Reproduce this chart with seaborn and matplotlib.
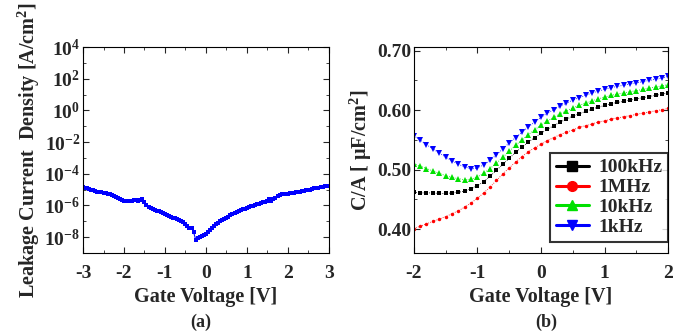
import numpy as np
import pandas as pd
import matplotlib
matplotlib.use("Agg")
import matplotlib.pyplot as plt
import seaborn as sns
from matplotlib.lines import Line2D
from matplotlib.ticker import FixedLocator, MultipleLocator, NullFormatter

# ---------------- data ----------------
# (a) leakage current density, log10(J)
leak_v = [round(-3 + 0.05 * i, 2) for i in range(121)]
leak_log = [
    -4.85, -4.88, -4.90, -4.97, -5.02, -5.05, -5.10, -5.12, -5.15, -5.17,
    -5.22, -5.20, -5.25, -5.30, -5.33, -5.38, -5.45, -5.52, -5.60, -5.66,
    -5.72, -5.72, -5.74, -5.70, -5.70, -5.68, -5.66, -5.70, -5.66, -5.62,
    -5.78, -5.95, -6.10, -6.18, -6.25, -6.30, -6.33, -6.38, -6.42, -6.48,
    -6.55, -6.62, -6.68, -6.75, -6.77, -6.78, -6.86, -6.90, -6.95, -7.05,
    -7.18, -7.30, -7.45, -7.42, -7.68, -8.15, -8.05, -7.98, -7.92, -7.88,
    -7.82, -7.70, -7.55, -7.42, -7.32, -7.20, -7.08, -6.98, -6.90, -6.85,
    -6.78, -6.70, -6.62, -6.55, -6.48, -6.42, -6.35, -6.30, -6.25, -6.20,
    -6.15, -6.10, -6.05, -6.02, -5.98, -5.93, -5.90, -5.85, -5.80, -5.76,
    -5.72, -5.60, -5.70, -5.62, -5.50, -5.40, -5.33, -5.30, -5.28, -5.27,
    -5.25, -5.22, -5.20, -5.20, -5.18, -5.15, -5.12, -5.10, -5.08, -5.05,
    -5.03, -5.00, -4.95, -4.90, -4.88, -4.88, -4.85, -4.82, -4.80, -4.78,
    -4.75,
]

# (b) C-V curves
cv_v = [round(-2 + 0.1 * i, 1) for i in range(41)]
cap_1khz = [
    0.557, 0.550, 0.542, 0.535, 0.528, 0.521, 0.515, 0.509, 0.505, 0.501,
    0.503, 0.508, 0.516, 0.525, 0.535, 0.545, 0.554, 0.563, 0.572, 0.580,
    0.588, 0.595, 0.601, 0.607, 0.612, 0.617, 0.621, 0.625, 0.629, 0.632,
    0.635, 0.638, 0.640, 0.642, 0.644, 0.646, 0.648, 0.650, 0.652, 0.654,
    0.657,
]
cap_10khz = [
    0.510, 0.506, 0.502, 0.498, 0.494, 0.490, 0.487, 0.485, 0.483, 0.484,
    0.488, 0.494, 0.502, 0.511, 0.521, 0.531, 0.541, 0.550, 0.559, 0.567,
    0.575, 0.582, 0.588, 0.594, 0.599, 0.604, 0.608, 0.612, 0.616, 0.619,
    0.622, 0.625, 0.627, 0.629, 0.631, 0.633, 0.635, 0.637, 0.639, 0.641,
    0.643,
]
cap_100khz = [
    0.462, 0.461, 0.461, 0.461, 0.460, 0.460, 0.461, 0.462, 0.464, 0.468,
    0.473, 0.480, 0.489, 0.499, 0.509, 0.519, 0.529, 0.538, 0.546, 0.554,
    0.561, 0.568, 0.574, 0.580, 0.585, 0.590, 0.594, 0.598, 0.602, 0.605,
    0.608, 0.611, 0.613, 0.615, 0.617, 0.619, 0.621, 0.623, 0.625, 0.627,
    0.629,
]
cap_1mhz = [
    0.401, 0.405, 0.409, 0.413, 0.417, 0.421, 0.426, 0.431, 0.437, 0.444,
    0.452, 0.461, 0.471, 0.482, 0.493, 0.503, 0.513, 0.522, 0.530, 0.537,
    0.543, 0.549, 0.554, 0.559, 0.563, 0.567, 0.571, 0.574, 0.577, 0.580,
    0.582, 0.585, 0.587, 0.589, 0.591, 0.593, 0.595, 0.597, 0.599, 0.601,
    0.603,
]
series_names = ["100kHz", "1MHz", "10kHz", "1kHz"]
series_vals = [cap_100khz, cap_1mhz, cap_10khz, cap_1khz]
series_colors = ["#000000", "#ff0000", "#00e000", "#0000ff"]
series_markers = ["s", "o", "^", "v"]
series_msize = [2.5, 2.5, 5.0, 5.0]

left_yticks = [1e-8, 1e-6, 1e-4, 1e-2, 1e0, 1e2, 1e4]
left_ylabels = ["10$^{-8}$", "10$^{-6}$", "10$^{-4}$", "10$^{-2}$", "10$^{0}$", "10$^{2}$", "10$^{4}$"]
right_yticks = [0.40, 0.50, 0.60, 0.70]
right_ylabels = ["0.40", "0.50", "0.60", "0.70"]

# ---------------- style ----------------
sns.set_theme(style="ticks")
plt.rcParams["font.family"] = ["Liberation Serif", "DejaVu Serif"]
plt.rcParams["font.weight"] = "bold"
plt.rcParams["mathtext.fontset"] = "custom"
plt.rcParams["mathtext.rm"] = "Liberation Serif:bold"
plt.rcParams["mathtext.it"] = "Liberation Serif:bold:italic"
plt.rcParams["mathtext.bf"] = "Liberation Serif:bold"
plt.rcParams["axes.linewidth"] = 0.8

fig = plt.figure(figsize=(6.75, 3.32), dpi=100)
ax1 = fig.add_axes([0.123, 0.238, 0.364, 0.62])
ax2 = fig.add_axes([0.613, 0.238, 0.377, 0.62])

# ---------------- (a) ----------------
dfa = pd.DataFrame({"V": leak_v, "J": np.power(10.0, leak_log)})
sns.lineplot(data=dfa, x="V", y="J", ax=ax1, color="#0000ff", lw=0.8,
             marker="s", markersize=2.8, markeredgewidth=0)
ax1.set_yscale("log")
ax1.set_xlim(-3, 3)
ax1.set_ylim(1e-9, 1e4)
ax1.yaxis.set_major_locator(FixedLocator(left_yticks))
ax1.set_yticklabels(left_ylabels)
ax1.yaxis.set_minor_locator(FixedLocator([1e-9, 1e-7, 1e-5, 1e-3, 1e-1, 1e1, 1e3]))
ax1.yaxis.set_minor_formatter(NullFormatter())
ax1.set_xticks([-3, -2, -1, 0, 1, 2, 3])
ax1.set_xticklabels(["-3", "-2", "-1", "0", "1", "2", "3"])
ax1.xaxis.set_minor_locator(MultipleLocator(0.5))
ax1.set_xlabel("Gate Voltage [V]", fontsize=14.5, fontweight="bold", labelpad=3)
ax1.set_ylabel("Leakage Current  Density [A/cm$^2$]", fontsize=14.5, fontweight="bold", labelpad=2)

# ---------------- (b) ----------------
for name, vals, col, mk, ms in zip(series_names, series_vals, series_colors, series_markers, series_msize):
    d = pd.DataFrame({"V": cv_v, "C": vals})
    sns.lineplot(data=d, x="V", y="C", ax=ax2, color=col, lw=0.6, ls=":",
                 marker=mk, markersize=ms, markeredgewidth=0)
ax2.set_xlim(-2, 2)
ax2.set_ylim(0.36, 0.706)
ax2.set_yticks(right_yticks)
ax2.set_yticklabels(right_ylabels)
ax2.yaxis.set_minor_locator(FixedLocator([0.45, 0.55, 0.65]))
ax2.set_xticks([-2, -1, 0, 1, 2])
ax2.set_xticklabels(["-2", "-1", "0", "1", "2"])
ax2.xaxis.set_minor_locator(MultipleLocator(0.5))
ax2.set_xlabel("Gate Voltage [V]", fontsize=14.5, fontweight="bold", labelpad=3)
ax2.set_ylabel("C/A [ \u03bcF/cm$^2$]", fontsize=14.5, fontweight="bold", labelpad=2)

handles = [Line2D([], [], color=c, marker=m, lw=2.2, markersize=7)
           for c, m in zip(series_colors, series_markers)]
leg = ax2.legend(handles, series_names, loc="lower right", bbox_to_anchor=(1.0, 0.053),
                 borderaxespad=0, frameon=True, fancybox=False, edgecolor="black",
                 handlelength=1.7,
                 prop={"family": "Liberation Serif", "weight": "bold", "size": 14},
                 borderpad=0.3, labelspacing=0.12, handletextpad=0.5)
leg.get_frame().set_linewidth(1.5)

for ax in (ax1, ax2):
    ax.tick_params(which="both", direction="in", top=True, right=True, labelsize=14)
    ax.tick_params(axis="x", which="both", pad=9)
    ax.tick_params(axis="y", which="both", pad=2)
    ax.tick_params(which="major", length=4, width=0.8)
    ax.tick_params(which="minor", length=2.5, width=0.6)
    for lab in ax.get_xticklabels() + ax.get_yticklabels():
        lab.set_fontweight("bold")
    for s in ax.spines.values():
        s.set_visible(True)
        s.set_color("black")
    ax.grid(False)

fig.text(0.297, 0.03, "(a)", ha="center", va="center", fontsize=13, fontweight="bold")
fig.text(0.81, 0.03, "(b)", ha="center", va="center", fontsize=13, fontweight="bold")

fig.savefig("out.png", dpi=100, facecolor="white")
